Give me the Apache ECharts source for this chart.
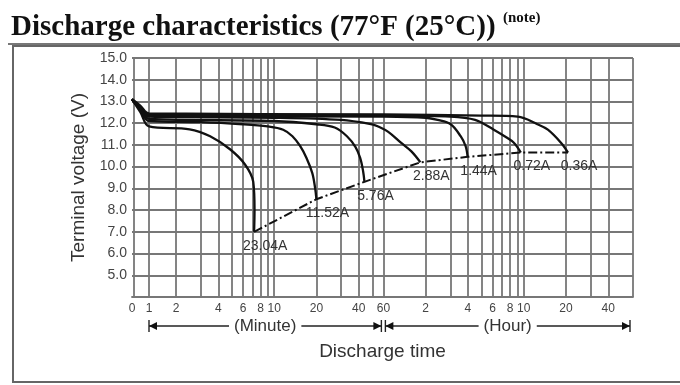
<!DOCTYPE html>
<html>
<head>
<meta charset="utf-8">
<script src="https://cdn.jsdelivr.net/npm/echarts@6/dist/echarts.min.js"></script>
<style>
  html, body { margin: 0; padding: 0; background: #fff; }
  #chart { width: 680px; height: 385px; }
</style>
</head>
<body>
<div id="chart"></div>
<script>
// discharge curves as [minutes, volts]
const currents = ['23.04A', '11.52A', '5.76A', '2.88A', '1.44A', '0.72A', '0.36A'];
const curve2304 = [[0, 13.1], [0.5, 12.5], [1, 11.85], [2.5, 11.72], [3.5, 11.4], [4.85, 10.8], [6.2, 10.1], [7.1, 9.3], [7.25, 8.0], [7.2, 7.0]];
const curve1152 = [[0, 13.1], [0.5, 12.6], [1, 12.1], [3, 12.05], [6, 11.95], [9, 11.85], [11.6, 11.7], [13.5, 11.4], [15.3, 10.95], [17, 10.4], [18.7, 9.7], [19.6, 9.0], [20, 8.5]];
const curve576 = [[0, 13.1], [0.5, 12.6], [1, 12.2], [10, 12.1], [20, 11.95], [27, 11.8], [33, 11.4], [38, 10.9], [41, 10.4], [43, 9.8], [44, 9.3]];
const curve288 = [[0, 13.1], [0.5, 12.7], [1, 12.3], [10, 12.25], [30, 12.15], [50, 11.95], [55, 11.85], [65, 11.6], [80, 11.1], [95, 10.7], [110, 10.2]];
const curve144 = [[0, 13.1], [0.5, 12.7], [1, 12.35], [60, 12.3], [120, 12.25], [146, 12.15], [181, 11.95], [213, 11.4], [231, 10.95], [239, 10.45]];
const curve072 = [[0, 13.1], [0.5, 12.75], [1, 12.4], [60, 12.35], [180, 12.3], [270, 12.15], [367, 11.7], [450, 11.35], [510, 11.1], [572, 10.65]];
const curve036 = [[0, 13.1], [0.5, 12.8], [1, 12.45], [60, 12.4], [300, 12.35], [544, 12.3], [750, 11.95], [891, 11.7], [1104, 11.1], [1240, 10.65]];
const curves = [curve2304, curve1152, curve576, curve288, curve144, curve072, curve036];

// final discharge voltage for each current
const cutoff = [[7.2, 7.0], [20, 8.5], [44, 9.3], [110, 10.2], [239, 10.45], [572, 10.65], [1240, 10.65]];

// time axis: grid lines and labels (minutes; past 60 the labels are hours)
const gridMinutes = [1, 2, 3, 4, 5, 6, 7, 8, 9, 10, 20, 30, 40, 50, 60, 120, 180, 240, 300, 360, 420, 480, 540, 600, 1200, 1800, 2400, 3600];
const labelMinutes = [0, 1, 2, 4, 6, 8, 10, 20, 40, 60, 120, 240, 360, 480, 600, 1200, 2400];
const labelText = ['0', '1', '2', '4', '6', '8', '10', '20', '40', '60', '2', '4', '6', '8', '10', '20', '40'];
const maxMinutes = 3600;

// the sheet's time scale is log from 2 min on, 0..2 min is squeezed in linearly
const X0 = -0.0125, X1 = 0.1086, X2 = Math.log10(2);
function tx(m) {
  if (m >= 2) return Math.log10(m);
  if (m >= 1) return X1 + (m - 1) * (X2 - X1);
  return X0 + m * (X1 - X0);
}
const toXY = (pts) => pts.map((p) => [tx(p[0]), p[1]]);

const sans = 'Liberation Sans, Arial, sans-serif';
const serif = 'Liberation Serif, Times New Roman, serif';
const gridColor = '#777';

const chart = echarts.init(document.getElementById('chart'), null, { renderer: 'canvas' });

const series = curves.map((c, i) => ({
  name: currents[i],
  type: 'line',
  data: toXY(c),
  smooth: 0.35,
  showSymbol: false,
  lineStyle: { color: '#111', width: 2.3 },
  z: 3,
}));

series.push({
  name: 'cutoff',
  type: 'line',
  data: toXY(cutoff),
  symbol: 'circle',
  symbolSize: 0.1,
  lineStyle: { color: '#111', width: 2, type: [9, 3, 2, 3] },
  label: {
    show: true,
    position: 'bottom',
    offset: [11, 2],
    fontFamily: sans,
    fontSize: 14,
    color: '#333',
    formatter: (p) => currents[p.dataIndex],
  },
  z: 4,
});

chart.setOption({
  animation: false,
  title: [
    {
      text: 'Discharge characteristics (77\u00b0F (25\u00b0C))',
      left: 6,
      top: 8,
      textStyle: { fontFamily: serif, fontWeight: 'bold', fontSize: 29, color: '#111' },
    },
    {
      text: '(note)',
      left: 498,
      top: 6,
      textStyle: { fontFamily: serif, fontWeight: 'bold', fontSize: 15, color: '#111' },
    },
  ],
  grid: { left: 132, right: 47, top: 58, bottom: 88 },
  xAxis: {
    type: 'value',
    min: tx(0),
    max: tx(maxMinutes),
    name: 'Discharge time',
    nameLocation: 'middle',
    nameGap: 45,
    nameTextStyle: { fontFamily: sans, fontSize: 19, color: '#333' },
    axisLine: { lineStyle: { color: gridColor, width: 1.8 } },
    axisTick: { show: false, customValues: gridMinutes.map(tx) },
    splitLine: { lineStyle: { color: gridColor, width: 1.8 } },
    axisLabel: {
      customValues: labelMinutes.map(tx),
      fontFamily: sans,
      fontSize: 12,
      color: '#444',
      margin: 6,
      formatter: (v) => {
        let best = 0;
        labelMinutes.forEach((m, i) => {
          if (Math.abs(tx(m) - v) < Math.abs(tx(labelMinutes[best]) - v)) best = i;
        });
        return labelText[best];
      },
    },
  },
  yAxis: {
    type: 'value',
    min: 4,
    max: 15,
    interval: 1,
    name: 'Terminal voltage (V)',
    nameLocation: 'middle',
    nameGap: 44,
    nameTextStyle: { fontFamily: sans, fontSize: 19, color: '#333' },
    axisLine: { show: true, lineStyle: { color: gridColor, width: 1.8 } },
    axisTick: { show: false },
    splitLine: { lineStyle: { color: gridColor, width: 1.8 } },
    axisLabel: {
      fontFamily: sans,
      fontSize: 14,
      color: '#444',
      margin: 5,
      formatter: (v) => (v < 5 ? '' : v.toFixed(1)),
    },
  },
  series: series,
});

// frame, and the (Minute) / (Hour) arrows under the time axis
const px = (m) => chart.convertToPixel({ xAxisIndex: 0 }, tx(m));
const ay = 326;
function arrow(x1, x2, text) {
  const head = 8;
  const mid = (x1 + x2) / 2;
  return [
    { type: 'line', shape: { x1: x1, y1: ay, x2: x2, y2: ay }, style: { stroke: '#222', lineWidth: 1.4 } },
    { type: 'line', shape: { x1: x1, y1: ay - 6, x2: x1, y2: ay + 6 }, style: { stroke: '#222', lineWidth: 1.4 } },
    { type: 'line', shape: { x1: x2, y1: ay - 6, x2: x2, y2: ay + 6 }, style: { stroke: '#222', lineWidth: 1.4 } },
    { type: 'polygon', shape: { points: [[x1, ay], [x1 + head, ay - 4], [x1 + head, ay + 4]] }, style: { fill: '#111' } },
    { type: 'polygon', shape: { points: [[x2, ay], [x2 - head, ay - 4], [x2 - head, ay + 4]] }, style: { fill: '#111' } },
    {
      type: 'text',
      x: mid,
      y: ay,
      style: {
        text: text, fontFamily: sans, fontSize: 17, fill: '#333',
        align: 'center', verticalAlign: 'middle',
        backgroundColor: '#fff', padding: [0, 5],
      },
    },
  ];
}

const xa = px(1), xb = px(60), xe = px(maxMinutes);
chart.setOption({
  graphic: [
    { type: 'rect', shape: { x: 13, y: 46, width: 700, height: 336 }, style: { fill: 'none', stroke: '#666', lineWidth: 2 } },
    { type: 'line', shape: { x1: 8, y1: 44, x2: 680, y2: 44 }, style: { stroke: '#777', lineWidth: 2 } },
  ]
    .concat(arrow(xa, xb - 2, '(Minute)'))
    .concat(arrow(xb + 2, xe - 3, '(Hour)')),
});
</script>
</body>
</html>
